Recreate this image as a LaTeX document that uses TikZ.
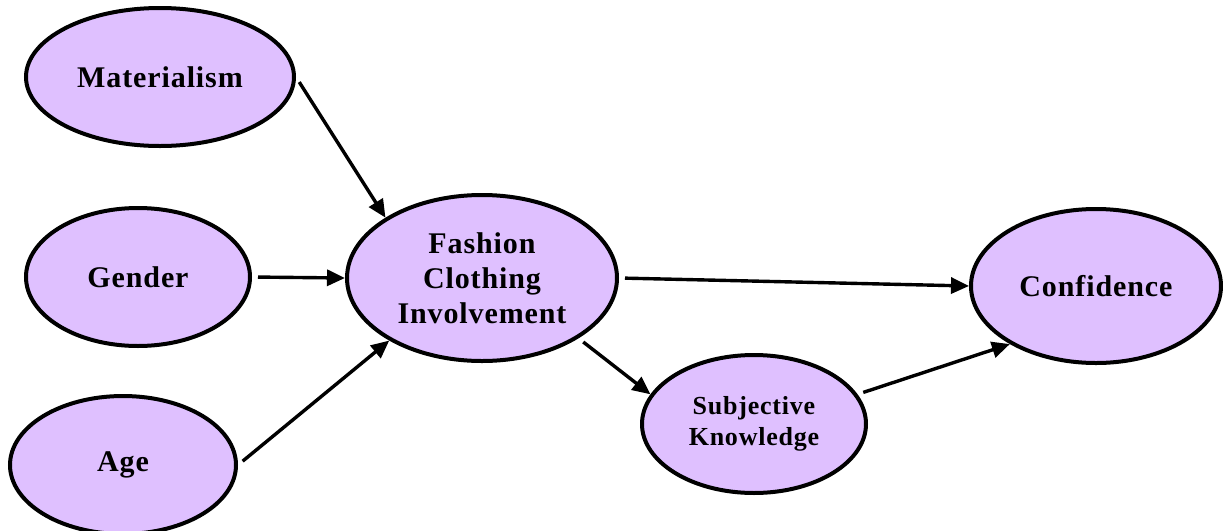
\documentclass[tikz,border=0pt]{standalone}
\usepackage{fontspec}
\setmainfont{Liberation Serif}[LetterSpace=3]
\usetikzlibrary{arrows.meta, shapes.geometric}
\definecolor{lavender}{RGB}{223,192,255}

\begin{document}
\begin{tikzpicture}[x=0.5pt, y=-0.5pt,
    latent/.style={draw, ellipse, line width=2pt, fill=lavender, inner sep=0pt,
        align=center, font=\bfseries\fontsize{15}{17.5}\selectfont},
    link/.style={-{Triangle[length=9pt, width=8pt]}, line width=1.7pt, shorten <=3pt}]

\useasboundingbox (0,0) rectangle (1223,531);

% predictor nodes

\node[latent, minimum width=134pt, minimum height=69pt] (mat) at (160, 77) {Materialism};
\node[latent, minimum width=112pt, minimum height=69pt] (gen) at (138, 277) {Gender};
\node[latent, minimum width=113pt, minimum height=69pt] (age) at (123, 465) {Age};

% mediator nodes

\node[latent, minimum width=135pt, minimum height=83pt] (fci) at (482, 278) {Fashion\\Clothing\\Involvement};
\node[latent, minimum width=112pt, minimum height=69pt, font=\bfseries\fontsize{13}{15.75}\selectfont] (sk) at (754, 424) {Subjective\\Knowledge};

% outcome node

\node[latent, minimum width=125pt, minimum height=77pt] (conf) at (1096, 286) {Confidence};

% predictors to involvement
\draw [link] (mat.east) -- (fci.148);
\draw [link] (gen.east) -- (fci.west);
\draw [link] (age.east) -- (fci.214);

% involvement to outcome
\draw [link] (fci.east) -- (conf.west);
\draw [link] (fci.-32) -- (sk.164);
\draw [link] (sk.16) -- (conf.214);

\end{tikzpicture}
\end{document}
